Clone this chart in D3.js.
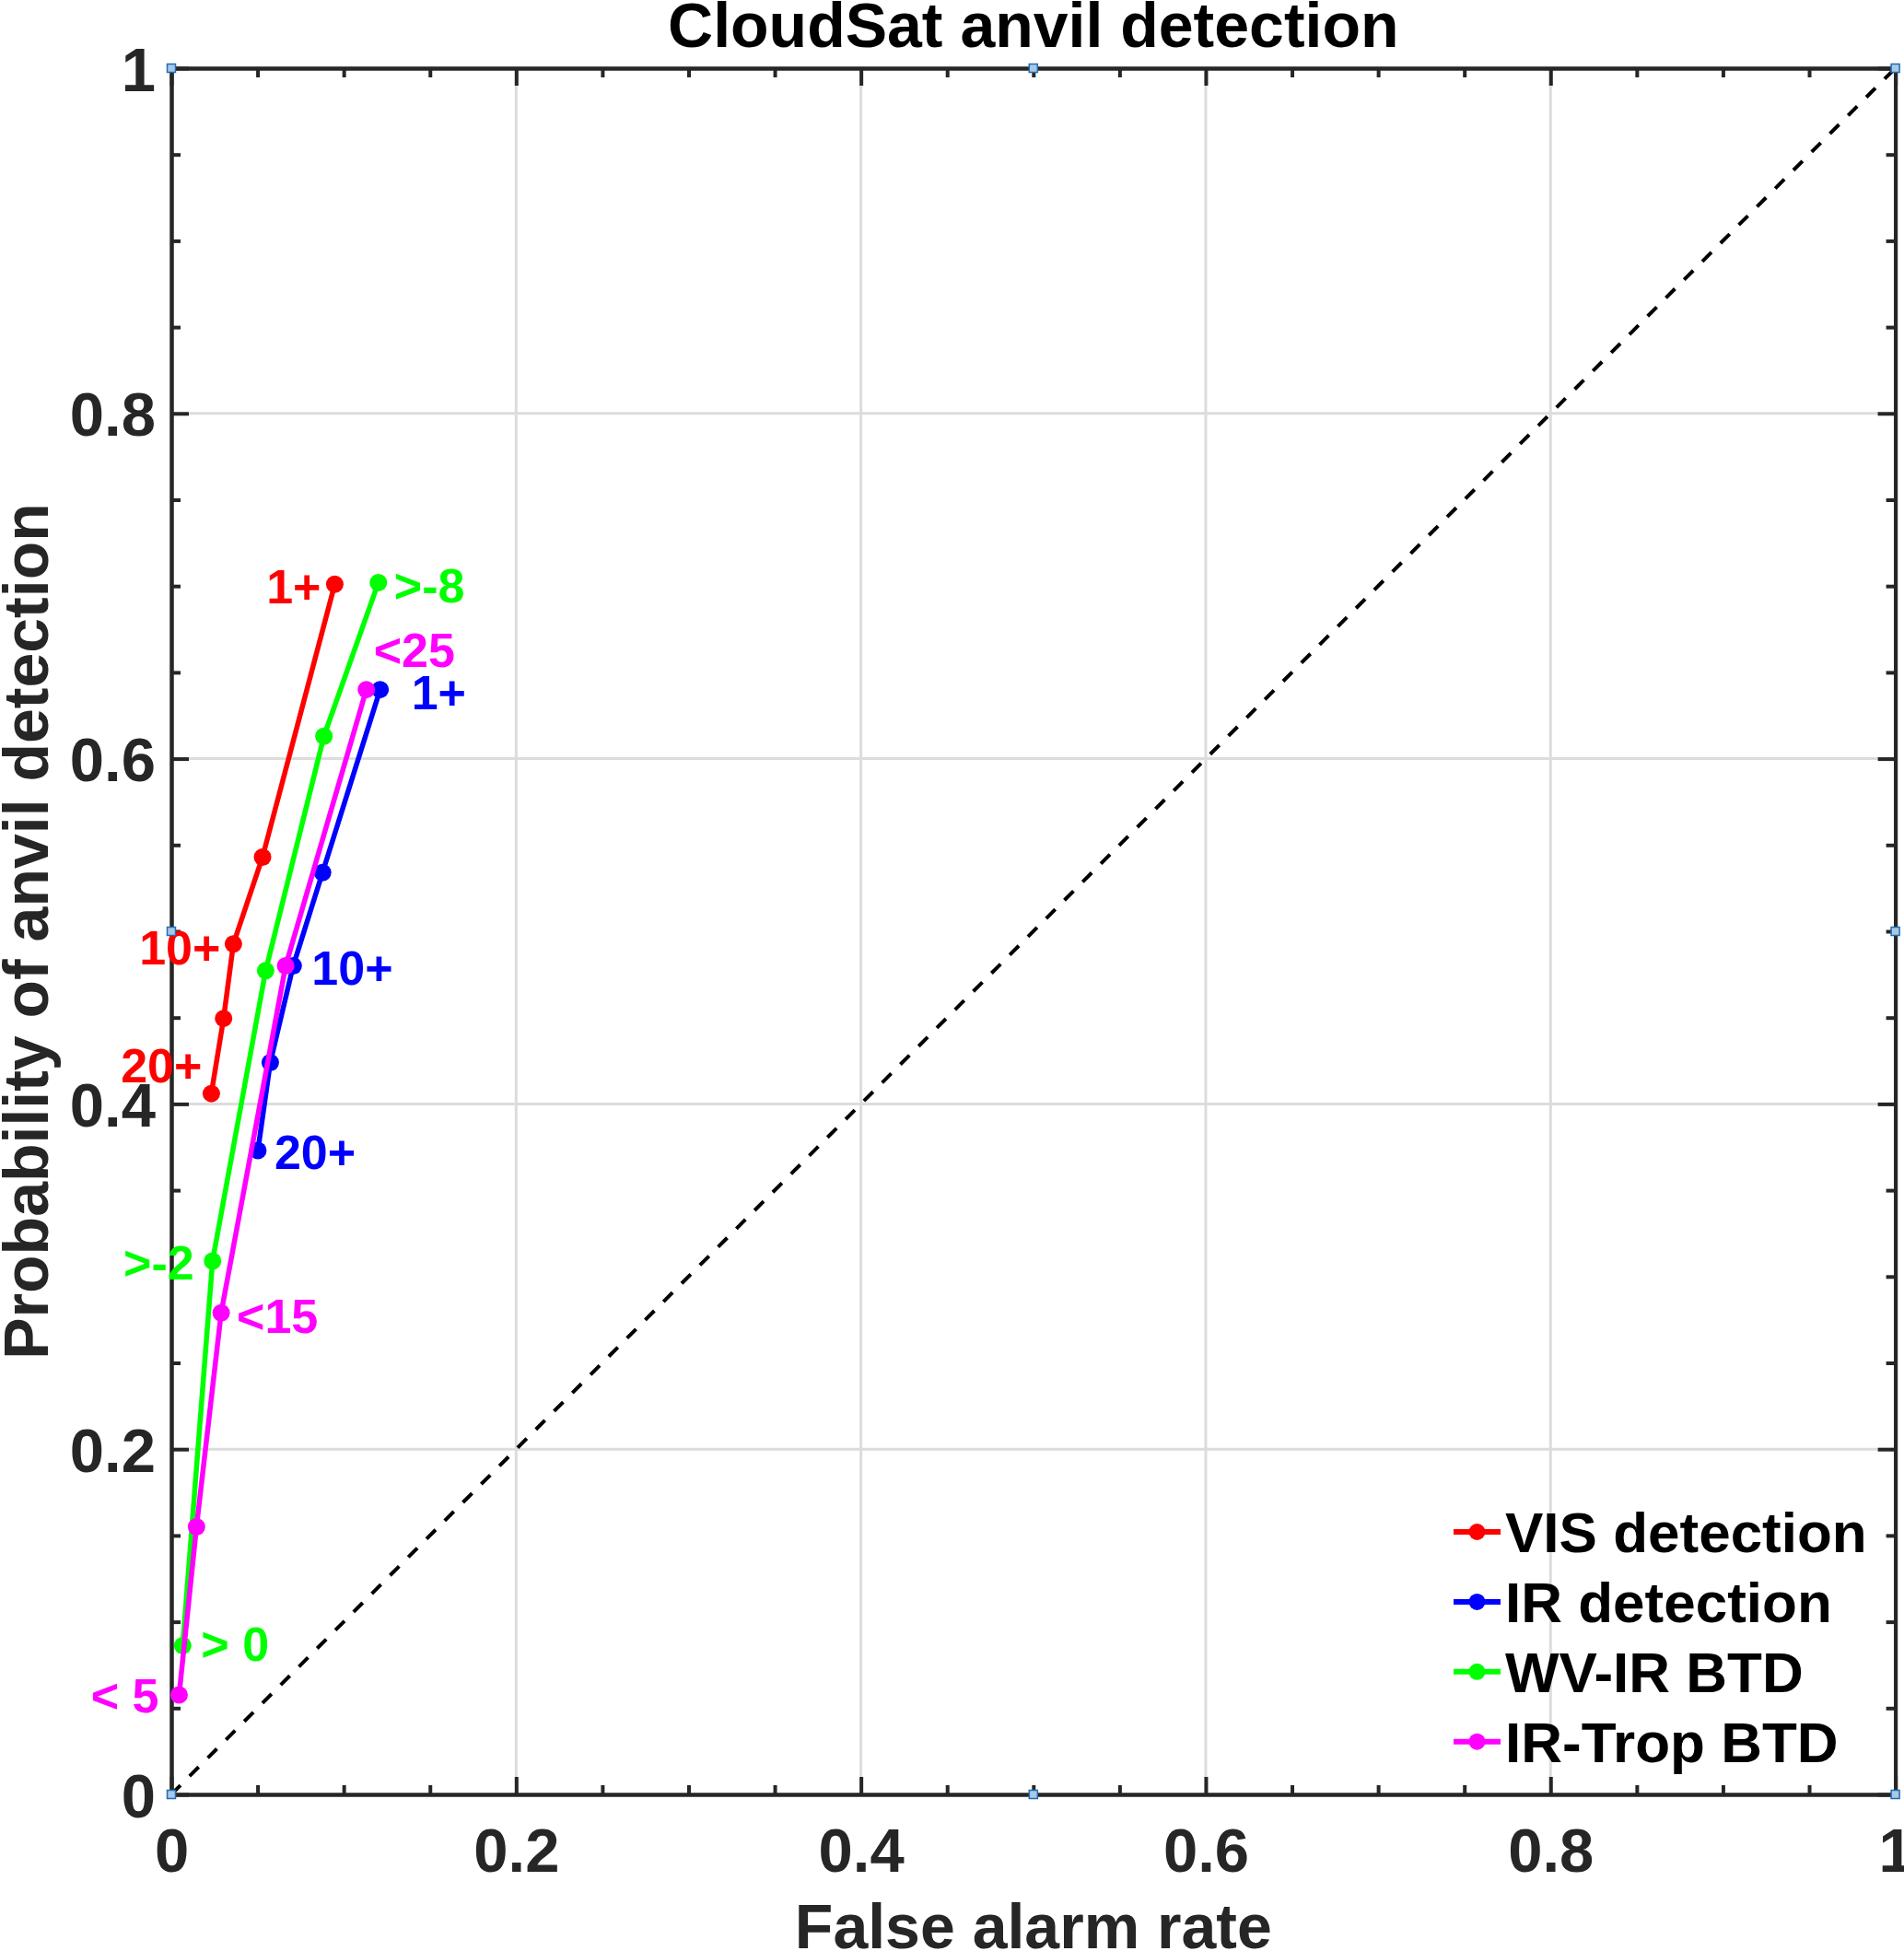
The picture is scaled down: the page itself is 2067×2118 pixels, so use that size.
<!DOCTYPE html>
<html>
<head>
<meta charset="utf-8">
<script src="https://cdn.jsdelivr.net/npm/d3@7"></script>
<style>
  html, body { margin: 0; padding: 0; background: #fff; }
  svg text { font-family: "Liberation Sans", Arial, Helvetica, sans-serif; font-weight: bold; }
</style>
</head>
<body>
<div id="viz"></div>
<script>
// data
var seriesNames = ['VIS detection', 'IR detection', 'WV-IR BTD', 'IR-Trop BTD']

var visFar = [0.0232, 0.0303, 0.0360, 0.0529, 0.0948]
var visPod = [0.406, 0.4495, 0.4927, 0.543, 0.701]
var visLabels = ['20+', '', '10+', '', '1+']

var irFar = [0.0502, 0.0574, 0.0707, 0.0877, 0.1211]
var irPod = [0.373, 0.424, 0.480, 0.534, 0.640]
var irLabels = ['20+', '', '10+', '', '1+']

var wvFar = [0.0066, 0.0239, 0.0547, 0.0885, 0.1201]
var wvPod = [0.0862, 0.309, 0.4772, 0.613, 0.702]
var wvLabels = ['> 0', '>-2', '', '', '>-8']

var tropFar = [0.0045, 0.0146, 0.0289, 0.0663, 0.1131]
var tropPod = [0.0576, 0.155, 0.2789, 0.480, 0.640]
var tropLabels = ['< 5', '', '<15', '', '<25']

var tickLabels = [0, 0.2, 0.4, 0.6, 0.8, 1]
var minorTicks = [0.05, 0.1, 0.15, 0.25, 0.3, 0.35, 0.45, 0.5, 0.55, 0.65, 0.7, 0.75, 0.85, 0.9, 0.95]

var titleText = 'CloudSat anvil detection'
var xLabelText = 'False alarm rate'
var yLabelText = 'Probability of anvil detection'

// styling
var colors = ['#ff0000', '#0000ff', '#00ff00', '#ff00ff']
var axisColor = '#262626'

var W = 2067, H = 2118
var pLeft = 186, pRight = 2057.6, pTop = 74, pBottom = 1948

var svg = d3.select('#viz')
  .append('svg')
  .attr('width', W)
  .attr('height', H)

var x = d3.scaleLinear().domain([0, 1]).range([pLeft, pRight])
var y = d3.scaleLinear().domain([0, 1]).range([pBottom, pTop])

// grid
var gridVals = tickLabels.filter(function(v) { return v > 0 && v < 1 })
svg.append('g').selectAll('line')
  .data(gridVals).enter().append('line')
  .attr('x1', function(d) { return x(d) }).attr('x2', function(d) { return x(d) })
  .attr('y1', y(0)).attr('y2', y(1))
  .attr('stroke', '#dcdcdc').attr('stroke-width', 3)
svg.append('g').selectAll('line')
  .data(gridVals).enter().append('line')
  .attr('y1', function(d) { return y(d) }).attr('y2', function(d) { return y(d) })
  .attr('x1', x(0)).attr('x2', x(1))
  .attr('stroke', '#dcdcdc').attr('stroke-width', 3)

// 1:1 reference line
svg.append('line')
  .attr('x1', x(0)).attr('y1', y(0))
  .attr('x2', x(1)).attr('y2', y(1))
  .attr('stroke', '#000').attr('stroke-width', 4)
  .attr('stroke-dasharray', '14,14')

// axes (ticks pointing inward, box on all sides)
function styleAxis(g) {
  g.selectAll('.domain').attr('stroke', axisColor).attr('stroke-width', 4)
  g.selectAll('.tick line').attr('stroke', axisColor).attr('stroke-width', 4)
  g.selectAll('.tick text')
    .attr('fill', axisColor)
    .style('font-size', '67px')
    .style('font-family', '"Liberation Sans", Arial, Helvetica, sans-serif')
    .style('font-weight', 'bold')
}

var fmt = function(d) { return String(d) }

svg.append('g').attr('transform', 'translate(0,' + pBottom + ')')
  .call(d3.axisBottom(x).tickValues(minorTicks).tickSize(-10).tickSizeOuter(0).tickFormat(''))
  .call(styleAxis)
svg.append('g').attr('transform', 'translate(0,' + pBottom + ')')
  .call(d3.axisBottom(x).tickValues(tickLabels).tickSize(-19).tickSizeOuter(0).tickPadding(36).tickFormat(fmt))
  .call(styleAxis)

svg.append('g').attr('transform', 'translate(0,' + pTop + ')')
  .call(d3.axisTop(x).tickValues(minorTicks).tickSize(-10).tickSizeOuter(0).tickFormat(''))
  .call(styleAxis)
svg.append('g').attr('transform', 'translate(0,' + pTop + ')')
  .call(d3.axisTop(x).tickValues(tickLabels).tickSize(-19).tickSizeOuter(0).tickFormat(''))
  .call(styleAxis)

svg.append('g').attr('transform', 'translate(' + pLeft + ',0)')
  .call(d3.axisLeft(y).tickValues(minorTicks).tickSize(-10).tickSizeOuter(0).tickFormat(''))
  .call(styleAxis)
svg.append('g').attr('transform', 'translate(' + pLeft + ',0)')
  .call(d3.axisLeft(y).tickValues(tickLabels).tickSize(-19).tickSizeOuter(0).tickPadding(17).tickFormat(fmt))
  .call(styleAxis)
  .selectAll('.tick text').attr('dy', '0.36em')

svg.append('g').attr('transform', 'translate(' + pRight + ',0)')
  .call(d3.axisRight(y).tickValues(minorTicks).tickSize(-10).tickSizeOuter(0).tickFormat(''))
  .call(styleAxis)
svg.append('g').attr('transform', 'translate(' + pRight + ',0)')
  .call(d3.axisRight(y).tickValues(tickLabels).tickSize(-19).tickSizeOuter(0).tickFormat(''))
  .call(styleAxis)

// series
var series = [
  { name: seriesNames[0], far: visFar, pod: visPod, labels: visLabels },
  { name: seriesNames[1], far: irFar, pod: irPod, labels: irLabels },
  { name: seriesNames[2], far: wvFar, pod: wvPod, labels: wvLabels },
  { name: seriesNames[3], far: tropFar, pod: tropPod, labels: tropLabels }
]

var line = d3.line()
  .x(function(d) { return x(d[0]) })
  .y(function(d) { return y(d[1]) })

series.forEach(function(s, i) {
  var pts = s.far.map(function(f, j) { return [f, s.pod[j]] })
  svg.append('path')
    .datum(pts)
    .attr('d', line)
    .attr('fill', 'none')
    .attr('stroke', colors[i])
    .attr('stroke-width', 5.5)
    .attr('stroke-linejoin', 'round')
  svg.append('g').selectAll('circle')
    .data(pts).enter().append('circle')
    .attr('cx', function(d) { return x(d[0]) })
    .attr('cy', function(d) { return y(d[1]) })
    .attr('r', 9.5)
    .attr('fill', colors[i])
})

// threshold labels next to points: [anchor, dx, dy] per label
var labelOffsets = {
  'VIS detection': { '20+': ['end', -10, -31], '10+': ['end', -14, 4], '1+': ['end', -15, 2] },
  'IR detection': { '20+': ['start', 18, 1], '10+': ['start', 20, 2], '1+': ['start', 34, 3] },
  'WV-IR BTD': { '> 0': ['start', 20, -2], '>-2': ['end', -20, 1], '>-8': ['start', 17, 3] },
  'IR-Trop BTD': { '< 5': ['end', -22, 0], '<15': ['start', 17, 3], '<25': ['start', 8, -43] }
}

series.forEach(function(s, i) {
  s.labels.forEach(function(lab, j) {
    if (!lab) return
    var o = labelOffsets[s.name][lab]
    svg.append('text')
      .attr('x', x(s.far[j]) + o[1])
      .attr('y', y(s.pod[j]) + o[2])
      .attr('dy', '0.36em')
      .attr('text-anchor', o[0])
      .attr('fill', colors[i])
      .style('font-size', '52px')
      .text(lab)
  })
})

// selection handles on the axes box
var handles = [[0, 0], [0.5, 0], [1, 0], [1, 0.5], [1, 1], [0.5, 1], [0, 1], [0, 0.5]]
svg.append('g').selectAll('rect')
  .data(handles).enter().append('rect')
  .attr('x', function(d) { return x(d[0]) - 4.5 })
  .attr('y', function(d) { return y(d[1]) - 4.5 })
  .attr('width', 9).attr('height', 9)
  .attr('fill', '#a9c8e6')
  .attr('stroke', '#1f6db3')
  .attr('stroke-width', 1.5)

// title and axis labels
svg.append('text')
  .attr('x', (pLeft + pRight) / 2)
  .attr('y', 51)
  .attr('text-anchor', 'middle')
  .attr('fill', '#000')
  .style('font-size', '68px')
  .text(titleText)

svg.append('text')
  .attr('x', (pLeft + pRight) / 2)
  .attr('y', 2115)
  .attr('text-anchor', 'middle')
  .attr('fill', axisColor)
  .style('font-size', '68px')
  .text(xLabelText)

svg.append('text')
  .attr('transform', 'translate(52,' + (pTop + pBottom) / 2 + ')rotate(-90)')
  .attr('text-anchor', 'middle')
  .attr('fill', axisColor)
  .style('font-size', '68px')
  .text(yLabelText)

// legend
var legend = svg.append('g')
  .selectAll('g')
  .data(series).enter().append('g')
  .attr('transform', function(d, i) { return 'translate(1578,' + (1663 + i * 75.9) + ')' })
legend.append('line')
  .attr('x1', 0).attr('x2', 51).attr('y1', 0).attr('y2', 0)
  .attr('stroke', function(d, i) { return colors[i] })
  .attr('stroke-width', 6)
legend.append('circle')
  .attr('cx', 25.5).attr('cy', 0).attr('r', 9)
  .attr('fill', function(d, i) { return colors[i] })
legend.append('text')
  .attr('x', 56).attr('y', 0).attr('dy', '0.36em')
  .attr('fill', '#000')
  .style('font-size', '62px')
  .text(function(d) { return d.name })
</script>
</body>
</html>
